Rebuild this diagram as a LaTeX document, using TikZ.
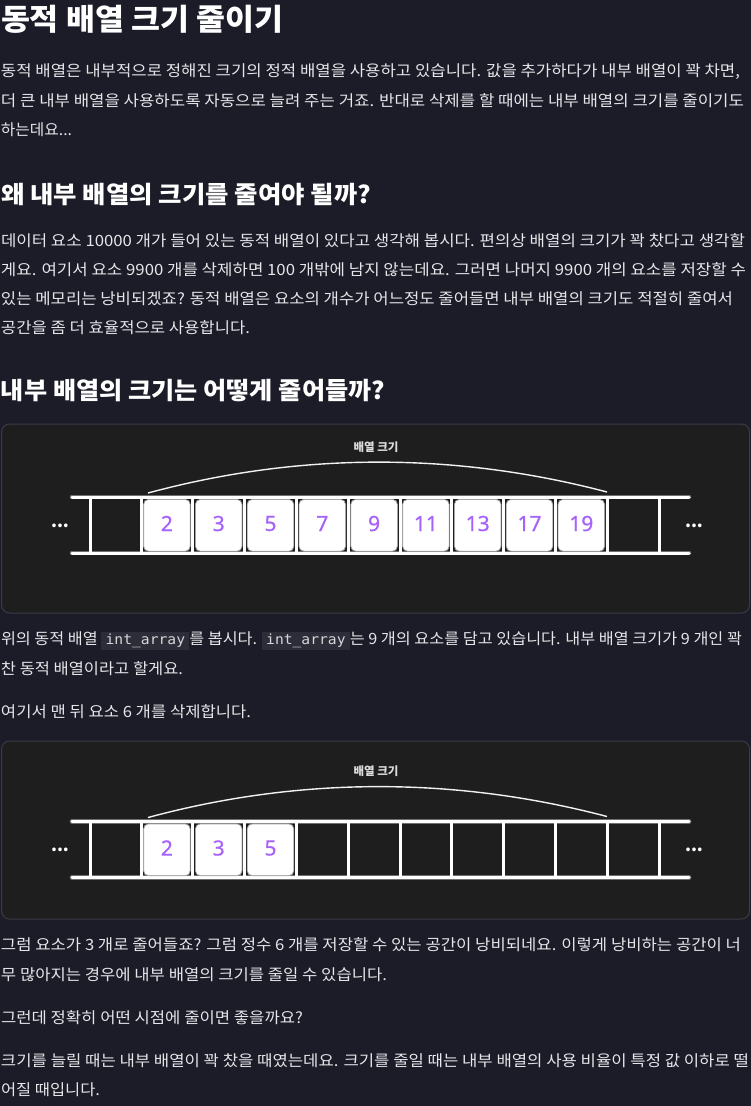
\documentclass[tikz,border=0pt]{standalone}
\usepackage{graphicx}
\usepackage{fontspec}
\setmainfont{Noto Sans CJK KR}
\newfontfamily\codefont{DejaVu Sans Mono}
\newfontfamily\numfont{Noto Sans}[FakeBold=0.7]
\definecolor{pagebg}{HTML}{1B1C27}
\definecolor{boxbg}{HTML}{1E1E1E}
\definecolor{boxline}{HTML}{3A3B46}
\definecolor{txt}{HTML}{E6E6EA}
\definecolor{codebg}{HTML}{2C2D38}
\definecolor{codetxt}{HTML}{D6D6DA}
\definecolor{numc}{HTML}{A763F9}
\definecolor{lblc}{HTML}{DDDDDD}
\newsavebox\fitbox
\newlength\fitlen
\newcommand\fitto[2]{\sbox\fitbox{#2}\setlength\fitlen{\wd\fitbox}\pgfmathsetmacro\fitsx{#1/\fitlen}\scalebox{\fitsx}[1]{\usebox\fitbox}}
\newcommand\code[1]{{\setlength\fboxsep{0pt}\colorbox{codebg}{\vrule width0pt height 12.7pt depth 5.3pt\hspace{4pt}{\codefont\fontsize{14}{16}\selectfont\color{codetxt}#1}\hspace{4pt}}}}
\tikzset{
  body/.style={anchor=base west, inner sep=0pt, outer sep=0pt, text=txt, font=\fontsize{15.5}{18}\selectfont},
  head/.style={anchor=base west, inner sep=0pt, outer sep=0pt, text=white, font=\fontsize{24}{28}\selectfont\bfseries},
  titlestyle/.style={anchor=base west, inner sep=0pt, outer sep=0pt, text=white, font=\fontsize{30}{34}\selectfont\bfseries},
  panel/.style={draw=boxline, fill=boxbg, line width=1pt, rounded corners=8pt},
  rail/.style={draw=white, line width=3pt, line cap=round},
  railglow/.style={draw=gray!70, line width=4.6pt, line cap=round, opacity=0.6},
  sep/.style={draw=white, line width=3pt},
  cellbox/.style={fill=white, draw=gray!70, line width=0.8pt, rounded corners=5pt},
  num/.style={inner sep=0pt, text=numc, font=\numfont\fontsize{21}{24}\selectfont},
  dotstyle/.style={anchor=base, inner sep=0pt, text=white, font=\fontsize{17}{18}\selectfont\bfseries},
  lbl/.style={inner sep=0pt, text=lblc, font=\fontsize{11.5}{13}\selectfont\bfseries},
  arcline/.style={draw=white!90!gray, line width=1.4pt},
}
\newcommand\drawarr[3]{%
  \begin{scope}[yshift=-#2pt]
    \node[lbl] (#1lbl) at (376,447) {배열 크기};
    \draw[arcline] (148,493) .. controls (300,452) and (455,452) .. (607,492);
    \foreach \ry in {497,553} {\draw[railglow] (72,\ry) -- (689,\ry);}
    \foreach \ry in {497,553} {\draw[rail] (72,\ry) -- (689,\ry);}
    \foreach \sx in {90,141,192.8,244.6,296.4,348.2,400,451.8,503.6,555.4,607.2,659} {\draw[sep] (\sx,497) -- (\sx,553);}
    \foreach \v [count=\k from 0] in {#3} {
      \path[cellbox] (141+51.8*\k+2.6,499.4) rectangle (141+51.8*\k+51.8-2.6,551.2);
      \node[num] (#1n\k) at (141+51.8*\k+25.9,523.5) {\v};
    }
    \node[dotstyle] (#1dl) at (60,527) {...};
    \node[dotstyle] (#1dr) at (694,527) {...};
  \end{scope}}
\begin{document}
\begin{tikzpicture}[x=1pt,y=-1pt]
\useasboundingbox (0,0) rectangle (751,1106);
\fill[pagebg] (0,0) rectangle (751,1106);

\node[titlestyle] (title) at (1,30) {\fitto{282}{동적 배열 크기 줄이기}};

\node[body] (p1a) at (1,76.7) {\fitto{739}{동적 배열은 내부적으로 정해진 크기의 정적 배열을 사용하고 있습니다. 값을 추가하다가 내부 배열이 꽉 차면,}};
\node[body] (p1b) at (1,106.2) {\fitto{743}{더 큰 내부 배열을 사용하도록 자동으로 늘려 주는 거죠. 반대로 삭제를 할 때에는 내부 배열의 크기를 줄이기도}};
\node[body] (p1c) at (1,135.7) {\fitto{71}{하는데요...}};

\node[head] (h2) at (1,203.9) {\fitto{370}{왜 내부 배열의 크기를 줄여야 될까?}};

\node[body] (p2a) at (1,246.7) {\fitto{744}{데이터 요소 10000 개가 들어 있는 동적 배열이 있다고 생각해 봅시다. 편의상 배열의 크기가 꽉 찼다고 생각할}};
\node[body] (p2b) at (1,275.7) {\fitto{745}{게요. 여기서 요소 9900 개를 삭제하면 100 개밖에 남지 않는데요. 그러면 나머지 9900 개의 요소를 저장할 수}};
\node[body] (p2c) at (1,304.7) {\fitto{732}{있는 메모리는 낭비되겠죠? 동적 배열은 요소의 개수가 어느정도 줄어들면 내부 배열의 크기도 적절히 줄여서}};
\node[body] (p2d) at (1,333.7) {\fitto{249}{공간을 좀 더 효율적으로 사용합니다.}};

\node[head] (h3) at (1,399.9) {\fitto{384}{내부 배열의 크기는 어떻게 줄어들까?}};

\path[panel] (1.5,424) rectangle (749.5,613);
\drawarr{a}{0}{2,3,5,7,9,11,13,17,19}

\node[body] (q1a) at (1,644.7) {\fitto{741}{위의 동적 배열 \code{int\_array}를 봅시다. \code{int\_array}는 9 개의 요소를 담고 있습니다. 내부 배열 크기가 9 개인 꽉}};
\node[body] (q1b) at (1,674.7) {\fitto{182}{찬 동적 배열이라고 할게요.}};
\node[body] (q1c) at (1,717.7) {\fitto{250}{여기서 맨 뒤 요소 6 개를 삭제합니다.}};

\path[panel] (1.5,741) rectangle (749.5,919);
\drawarr{b}{324.5}{2,3,5}

\node[body] (r1) at (1,950.7) {\fitto{740}{그럼 요소가 3 개로 줄어들죠? 그럼 정수 6 개를 저장할 수 있는 공간이 낭비되네요. 이렇게 낭비하는 공간이 너}};
\node[body] (r2) at (1,980.7) {\fitto{386}{무 많아지는 경우에 내부 배열의 크기를 줄일 수 있습니다.}};
\node[body] (r3) at (1,1023.7) {\fitto{302}{그런데 정확히 어떤 시점에 줄이면 좋을까요?}};
\node[body] (r4) at (1,1066.7) {\fitto{748}{크기를 늘릴 때는 내부 배열이 꽉 찼을 때였는데요. 크기를 줄일 때는 내부 배열의 사용 비율이 특정 값 이하로 떨}};
\node[body] (r5) at (1,1095.2) {\fitto{99}{어질 때입니다.}};
\end{tikzpicture}
\end{document}
